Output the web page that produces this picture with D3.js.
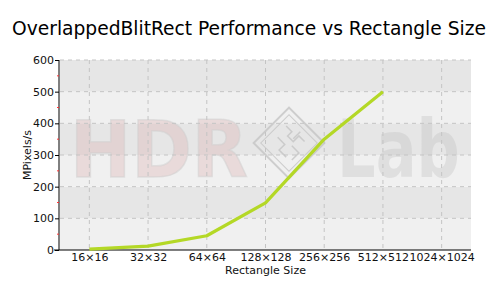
<!DOCTYPE html>
<html>
<head>
<meta charset="utf-8">
<script src="https://cdn.jsdelivr.net/npm/d3@7"></script>
<style>
  body { margin: 0; background: #fff; }
  svg { display: block; font-family: "DejaVu Sans", Verdana, sans-serif; }
</style>
</head>
<body>
<svg id="chart" width="500" height="300"></svg>
<script>
const sizes = ["16×16", "32×32", "64×64", "128×128", "256×256", "512×512", "1024×1024"];
// no value for 1024x1024 in the picture
const mpixels = [3, 12, 45, 149, 350, 500, null];
const yTicks = [0, 100, 200, 300, 400, 500, 600];
const yMinor = [50, 150, 250, 350, 450, 550];

const svg = d3.select("#chart");
const m = { left: 60, right: 29, top: 60, bottom: 50 };
const W = 500, H = 300;

const x = d3.scalePoint().domain(sizes).range([m.left, W - m.right]).padding(0.5);
const y = d3.scaleLinear().domain([0, 600]).range([H - m.bottom, m.top]);

// bandes alternees
const bands = d3.range(0, 600, 100);
svg.append("g").selectAll("rect").data(bands).join("rect")
  .attr("x", m.left)
  .attr("y", d => y(d + 100))
  .attr("width", W - m.right - m.left)
  .attr("height", d => y(d) - y(d + 100))
  .attr("fill", d => (d / 100) % 2 === 1 ? "#e6e6e6" : "#f0f0f0");

// filigrane HDR Lab
const wm = svg.append("g").attr("pointer-events", "none");
wm.append("text")
  .attr("x", 70).attr("y", 177)
  .attr("font-size", 78).attr("font-weight", "bold")
  .attr("fill", "#d9a0a0").attr("fill-opacity", 0.28)
  .attr("stroke", "#d0d0d0").attr("stroke-width", 1.5).attr("stroke-opacity", 0.5)
  .attr("textLength", 178).attr("lengthAdjust", "spacingAndGlyphs")
  .text("HDR");
wm.append("text")
  .attr("x", 337).attr("y", 177)
  .attr("font-size", 80).attr("font-weight", "bold")
  .attr("fill", "#b8b8b8").attr("fill-opacity", 0.3)
  .attr("textLength", 123).attr("lengthAdjust", "spacingAndGlyphs")
  .text("Lab");
const logo = wm.append("g").attr("transform", "translate(289,143) rotate(45)")
  .attr("fill", "none").attr("stroke", "#c4c4c4").attr("stroke-opacity", 0.8);
logo.append("rect").attr("x", -25).attr("y", -25).attr("width", 50).attr("height", 50).attr("stroke-width", 2);
logo.append("rect").attr("x", -20).attr("y", -20).attr("width", 40).attr("height", 40).attr("stroke-width", 1);
logo.append("path").attr("d", "M-14,-10 h8 v6 h8 v-8 h8 M-12,4 h10 v8 h10 M0,-16 v10 M4,0 h10 v10").attr("stroke-width", 1.5);

// grille
const grid = svg.append("g").attr("stroke", "#c4c4c4").attr("stroke-dasharray", "4,4");
grid.selectAll("line.h").data(yTicks.slice(1)).join("line")
  .attr("x1", m.left).attr("x2", W - m.right)
  .attr("y1", d => y(d)).attr("y2", d => y(d));
grid.selectAll("line.v").data(sizes).join("line")
  .attr("x1", d => x(d)).attr("x2", d => x(d))
  .attr("y1", m.top).attr("y2", H - m.bottom);

// axes
const yAxis = svg.append("g").attr("transform", `translate(${m.left - 1},0)`)
  .call(d3.axisLeft(y).tickValues(yTicks).tickSize(4).tickPadding(1));
yAxis.select(".domain").attr("d", `M0,${y(600)}V${y(0)}`);
yAxis.selectAll("text").attr("font-size", 11).attr("font-family", "DejaVu Sans").attr("fill", "#111");

svg.append("g").selectAll("line").data(yMinor).join("line")
  .attr("x1", m.left - 3).attr("x2", m.left - 1)
  .attr("y1", d => y(d)).attr("y2", d => y(d))
  .attr("stroke", "#ff3333");

const xAxis = svg.append("g").attr("transform", `translate(0,${H - m.bottom})`)
  .call(d3.axisBottom(x).tickSize(0).tickPadding(3));
xAxis.select(".domain").attr("d", `M${m.left - 6},0H${W - m.right}`);
xAxis.selectAll("text").attr("font-size", 11).attr("font-family", "DejaVu Sans").attr("fill", "#111");

// ligne de donnees
const line = d3.line()
  .defined(d => d.v != null)
  .x(d => x(d.k))
  .y(d => y(d.v));
svg.append("path")
  .datum(sizes.map((k, i) => ({ k, v: mpixels[i] })))
  .attr("d", line)
  .attr("fill", "none")
  .attr("stroke", "#b4d826")
  .attr("stroke-width", 3.2)
  .attr("stroke-linejoin", "round");

// titres
svg.append("text").attr("x", 249).attr("y", 35).attr("text-anchor", "middle")
  .attr("font-size", 19).attr("font-family", "DejaVu Sans Condensed, DejaVu Sans")
  .attr("textLength", 474).attr("lengthAdjust", "spacingAndGlyphs")
  .attr("fill", "#000")
  .text("OverlappedBlitRect Performance vs Rectangle Size");
svg.append("text").attr("x", (m.left + W - m.right) / 2).attr("y", 274).attr("text-anchor", "middle")
  .attr("font-size", 11).attr("fill", "#111").text("Rectangle Size");
svg.append("text").attr("transform", `translate(31,${(m.top + H - m.bottom) / 2}) rotate(-90)`)
  .attr("text-anchor", "middle").attr("font-size", 11).attr("fill", "#111").text("MPixels/s");
</script>
</body>
</html>
